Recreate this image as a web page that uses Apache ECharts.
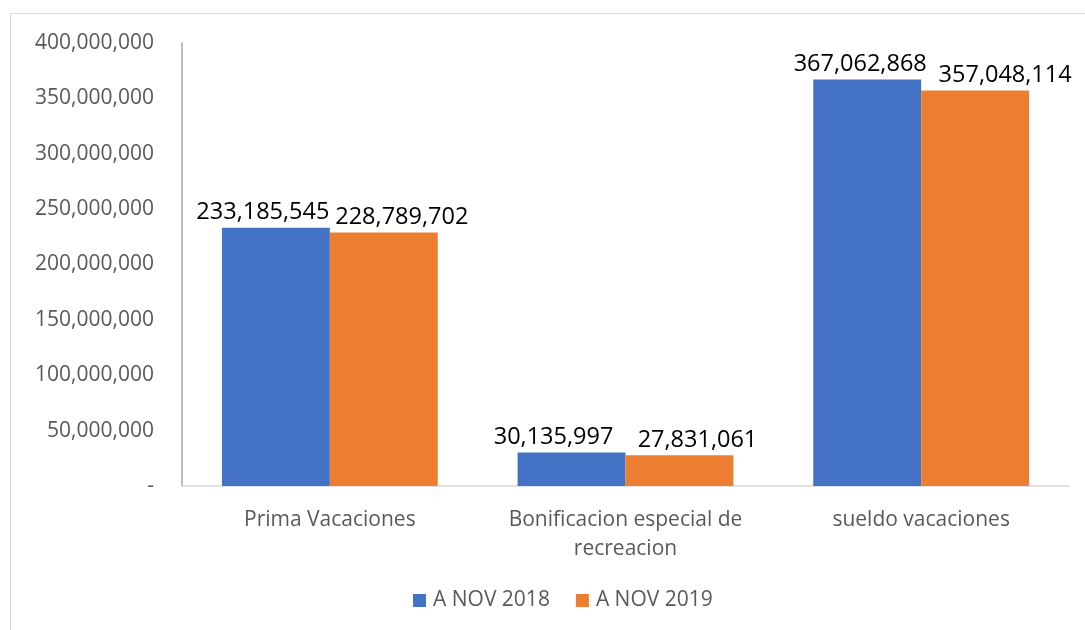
<!DOCTYPE html>
<html><head><meta charset="utf-8">
<script src="https://cdn.jsdelivr.net/npm/echarts@6/dist/echarts.min.js"></script>
<style>html,body{margin:0;padding:0;background:#fff}#c{width:1085px;height:630px}
#frame{position:absolute;left:10px;top:13px;width:1090px;height:640px;border:1.5px solid #d9d9d9;box-sizing:border-box;pointer-events:none}</style>
</head><body><div id="c"></div><div id="frame"></div>
<script>
const categories = ['Prima Vacaciones', 'Bonificacion especial de\nrecreacion', 'sueldo vacaciones'];
const seriesNames = ['A NOV 2018', 'A NOV 2019'];
const nov2018 = [233185545, 30135997, 367062868];
const nov2019 = [228789702, 27831061, 357048114];
const yTicks = [0, 50000000, 100000000, 150000000, 200000000, 250000000, 300000000, 350000000, 400000000];

const fmt = v => v === 0 ? '-' : v.toLocaleString('en-US');
const font = "'Open Sans', 'Liberation Sans', sans-serif";
// horizontal label nudges (like Excel's collision avoidance)
const labelShift = [[-13, -18, -7], [18, 18, 30]];
const chart = echarts.init(document.getElementById('c'));
const mk = (i, data, color) => ({
  name: seriesNames[i], type: 'bar', barGap: '0%', barCategoryGap: '27%',
  data: data.map((v, j) => ({ value: v, label: { offset: [labelShift[i][j], 0] } })),
  itemStyle: { color },
  label: { show: true, position: 'top', distance: 3, color: '#000', fontSize: 23.5, fontFamily: font,
    formatter: p => fmt(p.value) }
});
chart.setOption({
  animation: false,
  grid: { left: 182, right: 16, top: 43, bottom: 144 },
  legend: { bottom: 14, left: 408, itemWidth: 13, itemHeight: 13, itemGap: 26, icon: 'rect',
    textStyle: { fontSize: 21, color: '#595959', fontFamily: font, padding: [0, 0, 0, 2] } },
  xAxis: { type: 'category', data: categories,
    axisLine: { lineStyle: { color: '#d9d9d9', width: 1.5 } }, axisTick: { show: false },
    axisLabel: { interval: 0, fontSize: 21, color: '#595959', fontFamily: font, margin: 20, lineHeight: 29 } },
  yAxis: { type: 'value', min: yTicks[0], max: yTicks[yTicks.length - 1], interval: yTicks[1] - yTicks[0],
    splitLine: { show: false },
    axisLine: { show: true, lineStyle: { color: '#a6a6a6', width: 1.5 } }, axisTick: { show: false },
    axisLabel: { fontSize: 21, color: '#595959', fontFamily: font, margin: 28, formatter: fmt } },
  series: [mk(0, nov2018, '#4472c4'), mk(1, nov2019, '#ed7d31')]
});
</script></body></html>
